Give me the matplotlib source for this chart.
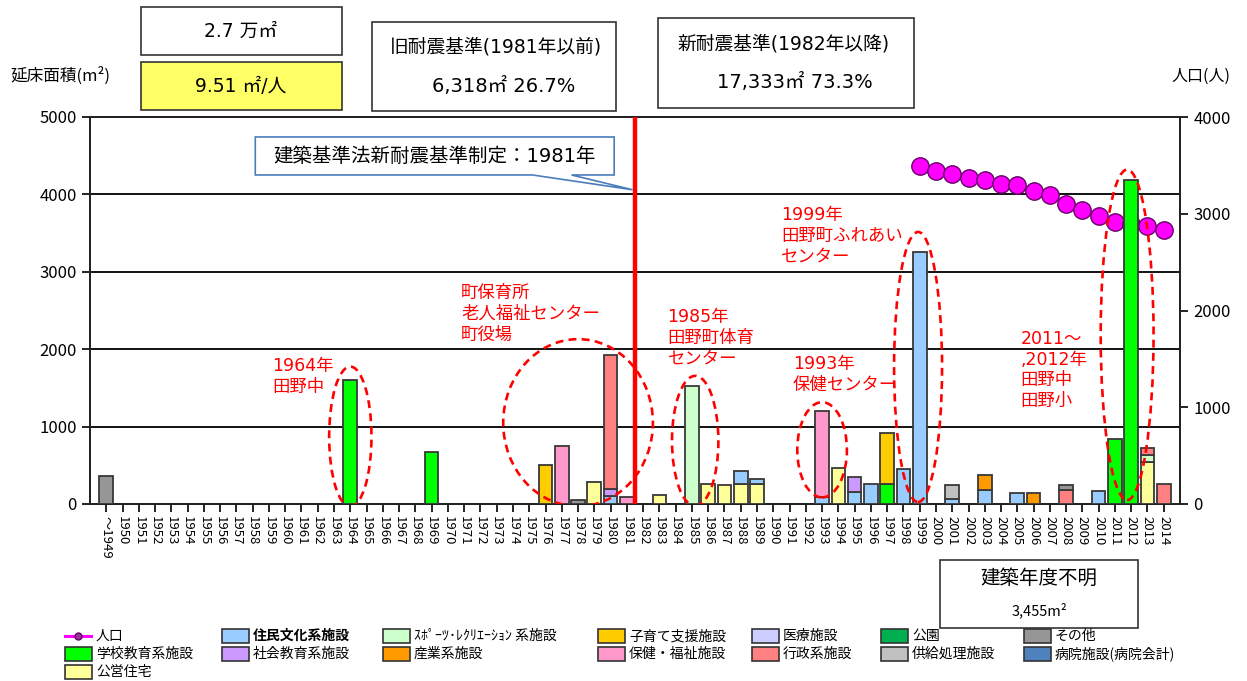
import matplotlib
matplotlib.use("Agg")
import matplotlib.pyplot as plt
from matplotlib.patches import Ellipse, Rectangle, Polygon
from matplotlib.lines import Line2D
import numpy as np

plt.rcParams['font.family'] = ['Noto Sans CJK JP', 'DejaVu Sans']
WIDE = ['DejaVu Sans', 'Noto Sans CJK JP']   # wider digits for numeric labels

# ---- data -----------------------------------------------------------------
year_nums = [1949] + list(range(1950, 2015))
year_labels = ['～1949'] + [str(y) for y in range(1950, 2015)]

# floor area (m²) by construction year, one dict per facility type
culture = {1980: 108, 1988: 175, 1989: 62, 1993: 86, 1995: 160, 1996: 258,
           1998: 448, 1999: 3250, 2001: 65, 2003: 177, 2005: 147, 2010: 168}
school = {1964: 1600, 1969: 670, 1997: 254, 2011: 842, 2012: 4180}
housing = {1979: 281, 1983: 113, 1986: 262, 1987: 240, 1988: 255, 1989: 255,
           1994: 466, 2013: 547}
social_edu = {1980: 87, 1995: 195}
sports = {1985: 1525, 2013: 91}
industry = {2003: 198, 2006: 147}
childcare = {1976: 506, 1997: 664}
welfare = {1977: 752, 1981: 91, 1993: 1112}
medical = {}
admin = {1980: 1730, 2008: 185, 2013: 90, 2014: 263}
park = {}
supply = {2001: 176}
other = {1949: 360, 1978: 56, 2008: 56}
hospital = {}

pop_years = list(range(1999, 2015))
population = [3490, 3447, 3406, 3371, 3354, 3309, 3299, 3233, 3196, 3103,
              3034, 2979, 2914, 2890, 2869, 2834]

# facility types: label, data, colour
types = {
    'culture': ('住民文化系施設', culture, '#99CCFF'),
    'school': ('学校教育系施設', school, '#00FF00'),
    'housing': ('公営住宅', housing, '#FFFF99'),
    'social_edu': ('社会教育系施設', social_edu, '#CC99FF'),
    'sports': ('ｽﾎﾟｰﾂ･ﾚｸﾘｴｰｼｮﾝ 系施設', sports, '#CCFFCC'),
    'industry': ('産業系施設', industry, '#FF9900'),
    'childcare': ('子育て支援施設', childcare, '#FFCC00'),
    'welfare': ('保健・福祉施設', welfare, '#FF99CC'),
    'medical': ('医療施設', medical, '#CCCCFF'),
    'admin': ('行政系施設', admin, '#FF8080'),
    'park': ('公園', park, '#00B050'),
    'supply': ('供給処理施設', supply, '#C0C0C0'),
    'other': ('その他', other, '#969696'),
    'hospital': ('病院施設(病院会計)', hospital, '#4F81BD'),
}
stack_order = ['housing', 'culture', 'school', 'social_edu', 'sports',
               'industry', 'childcare', 'welfare', 'medical', 'admin',
               'park', 'supply', 'other', 'hospital']

# ---- figure ---------------------------------------------------------------
W, H = 1247, 681
fig = plt.figure(figsize=(W / 100, H / 100), dpi=100)
fig.patch.set_facecolor('white')


def fx(px):
    return px / W


def fy(py):
    return 1 - py / H


ax = fig.add_axes([fx(90), fy(504), (1180 - 90) / W, (504 - 117) / H])
ax2 = ax.twinx()
# population axis sits underneath the bars
ax.set_zorder(ax2.get_zorder() + 1)
ax.patch.set_visible(False)

x = np.arange(len(year_nums))
ax.set_xlim(-1, len(year_nums))
ax.set_ylim(0, 5000)
ax2.set_ylim(0, 4000)

# horizontal grid drawn on the lower axes so the markers sit on top of it
ax2.set_yticks([800, 1600, 2400, 3200], minor=True)
ax2.tick_params(axis='y', which='minor', length=0)
ax2.grid(True, which='minor', axis='y', color='black', linewidth=1.3)

# population line
ax2.plot([year_nums.index(y) for y in pop_years], population, color='#FF00FF',
         linewidth=2.2, marker='o', markersize=12.5, markerfacecolor='#FF00FF',
         markeredgecolor='#660066', markeredgewidth=1.0, zorder=2)

# stacked bars
bottom = np.zeros(len(year_nums))
for key in stack_order:
    label, data, color = types[key]
    vals = np.array([data.get(y, 0) for y in year_nums], dtype=float)
    m = vals > 0
    if m.any():
        ax.bar(x[m], vals[m], bottom=bottom[m], width=0.84, color=color,
               edgecolor='#383838', linewidth=1.3, zorder=3)
    bottom += vals

# axes styling
ax.set_yticks(range(0, 5001, 1000))
ax2.set_yticks(range(0, 4001, 1000))
ax.set_xticks(x)
ax.set_xticklabels(year_labels, rotation=-90, fontsize=9.5)
ax.tick_params(axis='x', direction='out', length=6, width=1.2, pad=3)
ax.tick_params(axis='y', direction='out', length=6, width=1.2, labelsize=12)
ax2.tick_params(axis='y', direction='out', length=6, width=1.2, labelsize=12)
for a in (ax, ax2):
    for s in a.spines.values():
        s.set_color('#222222')
        s.set_linewidth(1.3)

# 1981 boundary line
ax.axvline(year_nums.index(1981) + 0.5, color='#FF0000', linewidth=3.2, zorder=6)

# dashed highlight ellipses around notable buildings
ellipses = [(15.0, 870, 2.6, 1810), (29.0, 1050, 9.2, 2160),
            (36.2, 815, 2.85, 1680), (44.0, 700, 3.05, 1230),
            (49.9, 1770, 2.95, 3490), (62.75, 2185, 3.25, 4270)]
for cx, cy, w, h in ellipses:
    ax.add_patch(Ellipse((cx, cy), w, h, fill=False, edgecolor='#FF0000',
                         linewidth=1.9, linestyle=(0, (3, 2)), zorder=5))

# red notes
notes = [(10.2, 1900, '1964年\n田野中'),
         (21.8, 2840, '町保育所\n老人福祉センター\n町役場'),
         (34.5, 2530, '1985年\n田野町体育\nセンター'),
         (42.2, 1925, '1993年\n保健センター'),
         (41.5, 3850, '1999年\n田野町ふれあい\nセンター'),
         (56.2, 2250, '2011～\n,2012年\n田野中\n田野小')]
for nx, ny, t in notes:
    ax.text(nx, ny, t, color='#FF0000', fontsize=12.5, va='top', ha='left',
            linespacing=1.2, zorder=7, family=WIDE)

# callout for the 1981 revision
callout = Polygon([(9.16, 4742), (31.22, 4742), (31.22, 4251), (28.6, 4251),
                   (32.35, 4060), (26.2, 4251), (9.16, 4251)], closed=True,
                  facecolor='white', edgecolor='#4A7EBB', linewidth=1.2,
                  zorder=8, clip_on=False)
ax.add_patch(callout)
ax.text(20.2, 4496, '建築基準法新耐震基準制定：1981年', fontsize=14,
        ha='center', va='center', zorder=9, family=WIDE)


# ---- boxes and labels outside the plot ------------------------------------
def px_box(x0, y0, x1, y1, fc='white'):
    fig.add_artist(Rectangle((fx(x0), fy(y1)), (x1 - x0) / W, (y1 - y0) / H,
                             transform=fig.transFigure, facecolor=fc,
                             edgecolor='#333333', linewidth=1.2))


def px_text(px, py, s, **kw):
    kw.setdefault('fontsize', 12)
    kw.setdefault('ha', 'center')
    kw.setdefault('va', 'center')
    fig.text(fx(px), fy(py), s, **kw)


px_box(141, 7, 342, 55)
px_text(241, 31, '2.7 万㎡', fontsize=13.5, family=WIDE)
px_box(141, 62, 342, 110, fc='#FFFF66')
px_text(241, 86, '9.51 ㎡/人', fontsize=13.5, family=WIDE)
px_box(372, 22, 616, 111)
px_text(496, 47, '旧耐震基準(1981年以前)', fontsize=13.5, family=WIDE)
px_text(504, 86, '6,318㎡ 26.7%', fontsize=14, family=WIDE)
px_box(658, 18, 914, 108)
px_text(784, 44, '新耐震基準(1982年以降)', fontsize=13.5, family=WIDE)
px_text(795, 83, '17,333㎡ 73.3%', fontsize=14, family=WIDE)
px_text(10, 76, '延床面積(m²)', ha='left', fontsize=12)
px_text(1201, 76, '人口(人)', fontsize=11.5)
px_box(940, 560, 1138, 628)
px_text(1039, 578, '建築年度不明', fontsize=14)
px_text(1039, 610, '3,455m²', fontsize=10.5)

# ---- legend (drawn as a grid of swatches) ---------------------------------
legend_cols = [['pop', 'school', 'housing'],
               ['culture', 'social_edu'],
               ['sports', 'industry'],
               ['childcare', 'welfare'],
               ['medical', 'admin'],
               ['park', 'supply'],
               ['other', 'hospital']]
col_x = [65, 222, 383, 598, 752, 881, 1024]
row_y = [636, 654, 672]
for cxp, keys in zip(col_x, legend_cols):
    for ryp, key in zip(row_y, keys):
        if key == 'pop':
            fig.add_artist(Line2D([fx(cxp), fx(cxp + 26)], [fy(ryp), fy(ryp)],
                                  transform=fig.transFigure, color='#FF00FF',
                                  linewidth=2.2))
            fig.add_artist(Line2D([fx(cxp + 13)], [fy(ryp)],
                                  transform=fig.transFigure, marker='o',
                                  markersize=5, markerfacecolor='#993399',
                                  markeredgecolor='#660066', linestyle='none'))
            label = '人口'
            weight = 'normal'
        else:
            label, _, color = types[key]
            fig.add_artist(Rectangle((fx(cxp), fy(ryp + 7)), 27 / W, 14 / H,
                                     transform=fig.transFigure, facecolor=color,
                                     edgecolor='#333333', linewidth=1.2))
            weight = 'bold' if key == 'culture' else 'normal'
        fig.text(fx(cxp + 31), fy(ryp), label, fontsize=10, ha='left',
                 va='center', fontweight=weight)

fig.savefig('out.png', dpi=100, facecolor='white')
